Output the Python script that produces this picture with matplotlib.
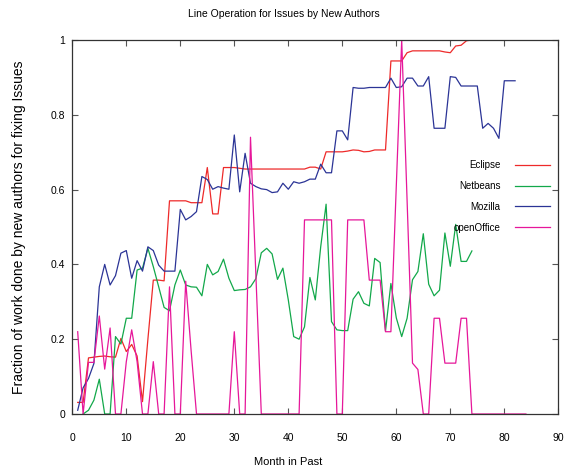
import matplotlib
matplotlib.use("Agg")
import matplotlib.pyplot as plt
import numpy as np

plt.rcParams["font.family"] = ["Liberation Sans Narrow", "Liberation Sans", "DejaVu Sans"]

# values, one per month
eclipse = [0.031, 0.031, 0.15, 0.152, 0.154, 0.155, 0.153, 0.152, 0.202, 0.167,
           0.186, 0.155, 0.033, 0.2, 0.358, 0.358, 0.356, 0.57, 0.57, 0.57,
           0.57, 0.565, 0.565, 0.565, 0.659, 0.535, 0.535, 0.659, 0.659, 0.659,
           0.657, 0.655, 0.655, 0.655, 0.655, 0.655, 0.655, 0.655, 0.655, 0.655,
           0.655, 0.655, 0.655, 0.66, 0.66, 0.655, 0.701, 0.701, 0.701, 0.701,
           0.703, 0.706, 0.705, 0.701, 0.702, 0.706, 0.706, 0.706, 0.944, 0.944,
           0.944, 0.966, 0.971, 0.971, 0.971, 0.971, 0.971, 0.971, 0.968, 0.966,
           0.984, 0.986, 0.998, 1.0]
eclipse_start = 1

netbeans = [0.0, 0.01, 0.037, 0.093, 0.0, 0.0, 0.207, 0.187, 0.256, 0.256,
            0.385, 0.39, 0.443, 0.394, 0.34, 0.285, 0.276, 0.345, 0.385, 0.345,
            0.34, 0.339, 0.316, 0.4, 0.372, 0.381, 0.414, 0.363, 0.33, 0.332,
            0.333, 0.34, 0.362, 0.431, 0.443, 0.428, 0.36, 0.39, 0.305, 0.207,
            0.2, 0.233, 0.365, 0.305, 0.447, 0.561, 0.247, 0.225, 0.223, 0.223,
            0.307, 0.327, 0.296, 0.289, 0.416, 0.405, 0.222, 0.349, 0.257, 0.207,
            0.256, 0.359, 0.381, 0.482, 0.347, 0.316, 0.331, 0.484, 0.395, 0.507,
            0.408, 0.408, 0.436]
netbeans_start = 2

mozilla = [0.01, 0.07, 0.095, 0.135, 0.34, 0.40, 0.345, 0.37, 0.43, 0.437,
           0.363, 0.41, 0.382, 0.447, 0.437, 0.398, 0.382, 0.382, 0.382, 0.547,
           0.519, 0.528, 0.541, 0.635, 0.627, 0.601, 0.608, 0.604, 0.601, 0.746,
           0.594, 0.697, 0.617, 0.608, 0.602, 0.6, 0.592, 0.594, 0.617, 0.601,
           0.621, 0.617, 0.621, 0.628, 0.628, 0.668, 0.645, 0.645, 0.757, 0.757,
           0.733, 0.873, 0.871, 0.871, 0.873, 0.873, 0.873, 0.873, 0.898, 0.873,
           0.875, 0.898, 0.898, 0.877, 0.877, 0.902, 0.764, 0.764, 0.764, 0.902,
           0.9, 0.877, 0.877, 0.877, 0.877, 0.764, 0.777, 0.764, 0.737, 0.891,
           0.891, 0.891]
mozilla_start = 1

openoffice = [0.22, 0.0, 0.138, 0.138, 0.262, 0.12, 0.23, 0.0, 0.0, 0.14,
              0.225, 0.14, 0.0, 0.0, 0.14, 0.0, 0.0, 0.34, 0.0, 0.0,
              0.355, 0.17, 0.0, 0.0, 0.0, 0.0, 0.0, 0.0, 0.0, 0.22,
              0.0, 0.0, 0.74, 0.37, 0.0, 0.0, 0.0, 0.0, 0.0, 0.0,
              0.0, 0.0, 0.519, 0.519, 0.519, 0.519, 0.519, 0.519, 0.0, 0.0,
              0.519, 0.519, 0.519, 0.519, 0.358, 0.358, 0.358, 0.22, 0.22, 0.61,
              1.0, 0.57, 0.136, 0.119, 0.0, 0.0, 0.256, 0.256, 0.136, 0.136,
              0.136, 0.256, 0.256, 0.0, 0.0, 0.0, 0.0, 0.0, 0.0, 0.0,
              0.0, 0.0, 0.0, 0.0]
openoffice_start = 1

series = [("Eclipse", eclipse, eclipse_start, "#ee2a2a"),
          ("Netbeans", netbeans, netbeans_start, "#12a84a"),
          ("Mozilla", mozilla, mozilla_start, "#2b3496"),
          ("openOffice", openoffice, openoffice_start, "#e6179a")]

fig = plt.figure(figsize=(5.65, 4.73), dpi=100)
ax = fig.add_axes([72.3 / 565, 1 - 414 / 473, 486 / 565, 374 / 473])

for name, vals, start, color in series:
    months = np.arange(start, start + len(vals))
    ax.plot(months, vals, color=color, lw=0.9, label=name)

ax.set_xlim(0, 90)
ax.set_ylim(0, 1)
ax.set_xticks(np.arange(0, 91, 10))
ax.set_yticks([0, 0.2, 0.4, 0.6, 0.8, 1])
ax.set_yticklabels(["0", "0.2", "0.4", "0.6", "0.8", "1"])
ax.tick_params(direction="in", top=True, right=True, length=4, width=0.8,
               color="#555555", labelsize=7.5, pad=5)
ax.tick_params(axis="x", pad=14)
for s in ax.spines.values():
    s.set_color("#333333")
    s.set_linewidth(0.9)

ax.set_ylabel("Fraction of work done by new authors for fixing Issues",
              fontsize=10, family=["Liberation Sans", "DejaVu Sans"])
ax.yaxis.set_label_coords(-0.095, 0.5)
ax.set_xlabel("Month in Past", fontsize=8)
ax.xaxis.set_label_coords((288 - 72.3) / 486, -0.115)

fig.text(284 / 565, 1 - 14 / 473, "Line Operation for Issues by New Authors",
         ha="center", va="center", fontsize=7.5)

ax.legend(loc="upper right", bbox_to_anchor=(0.983, 0.678), frameon=False,
          markerfirst=False, fontsize=7, handlelength=3.6, handletextpad=1.5,
          labelspacing=1.1, borderaxespad=0, borderpad=0)

fig.savefig("out.png", dpi=100)
